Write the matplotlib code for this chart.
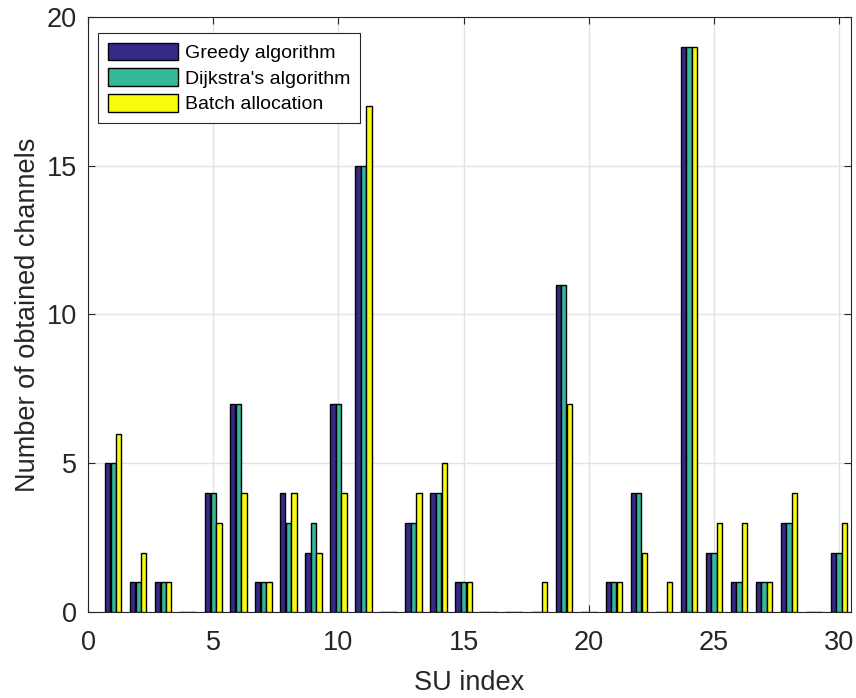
import numpy as np
import matplotlib.pyplot as plt

plt.rcParams['font.family'] = ['Liberation Sans', 'DejaVu Sans']

su_index = np.arange(1, 31)
greedy = [5, 1, 1, 0, 4, 7, 1, 4, 2, 7, 15, 0, 3, 4, 1, 0, 0, 0, 11, 0, 1, 4, 0, 19, 2, 1, 1, 3, 0, 2]
dijkstra = [5, 1, 1, 0, 4, 7, 1, 3, 3, 7, 15, 0, 3, 4, 1, 0, 0, 0, 11, 0, 1, 4, 0, 19, 2, 1, 1, 3, 0, 2]
batch = [6, 2, 1, 0, 3, 4, 1, 4, 2, 4, 17, 0, 4, 5, 1, 0, 0, 1, 7, 0, 1, 2, 1, 19, 3, 3, 1, 4, 0, 3]

series = [("Greedy algorithm", greedy, "#352a87"),
          ("Dijkstra's algorithm", dijkstra, "#35b79c"),
          ("Batch allocation", batch, "#f9fb0e")]

fig = plt.figure(figsize=(8.56, 6.98), dpi=100)
ax = fig.add_axes([0.103, 0.123, 0.891, 0.853])

w = 0.222
for i, (name, vals, col) in enumerate(series):
    ax.bar(su_index + (i - 1) * w, vals, width=w * 0.95, color=col,
           edgecolor='black', linewidth=1.0, label=name, zorder=3)

ax.set_xlim(0, 30.47)
ax.set_ylim(0, 20)
ax.set_xticks([0, 5, 10, 15, 20, 25, 30])
ax.set_yticks([0, 5, 10, 15, 20])
ax.grid(True, color='#e3e3e3', linewidth=1.0, zorder=0)
ax.tick_params(axis='both', labelsize=19.5, direction='in', length=5,
               color='#262626', labelcolor='#262626', top=True, right=True)
ax.tick_params(axis='x', pad=13)
ax.tick_params(axis='y', pad=8)
for s in ax.spines.values():
    s.set_color('#262626')
    s.set_linewidth(0.8)
ax.set_xlabel('SU index', fontsize=19.5, color='#262626', labelpad=10)
ax.set_ylabel('Number of obtained channels', fontsize=19.5, color='#262626', labelpad=4)

leg = ax.legend(loc='upper left', bbox_to_anchor=(0.013, 0.973), borderaxespad=0,
                fontsize=14, fancybox=False, edgecolor='#262626', framealpha=1,
                handlelength=3.6, handleheight=1.0, handletextpad=0.35,
                borderpad=0.5, labelspacing=0.33)
leg.get_frame().set_linewidth(0.8)

fig.savefig('out.png', dpi=100)
